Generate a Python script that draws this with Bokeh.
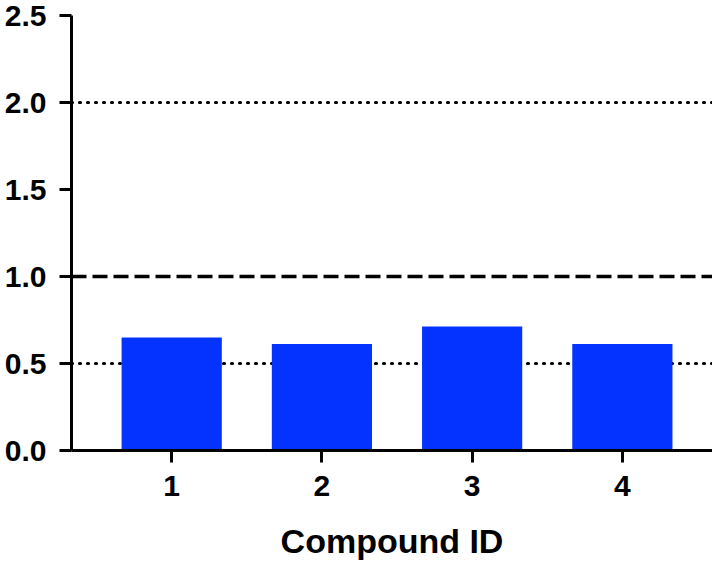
from bokeh.plotting import figure
from bokeh.models import Range1d, FixedTicker, Span
from bokeh.embed import file_html
from bokeh.resources import INLINE

compounds = [1, 2, 3, 4]
values = [0.65, 0.612, 0.712, 0.612]
y_ticks = [0.0, 0.5, 1.0, 1.5, 2.0, 2.5]
y_tick_labels = ["0.0", "0.5", "1.0", "1.5", "2.0", "2.5"]
dotted_refs = [0.5, 2.0]
dashed_ref = 1.0
x_label = "Compound ID"

FONT = "Liberation Sans"

p = figure(width=712, height=562, output_backend="svg", toolbar_location=None,
           x_range=Range1d(0.333, 4.6), y_range=Range1d(0, 2.5),
           min_border_left=71, min_border_right=0, min_border_top=15, min_border_bottom=10)
p.xgrid.visible = False
p.ygrid.visible = False
p.outline_line_color = None
p.background_fill_color = "white"
p.border_fill_color = "white"

for r in dotted_refs:
    p.add_layout(Span(location=r, dimension="width", line_color="black",
                      line_width=3.2, line_dash="1 7", line_cap="round", level="underlay"))
p.add_layout(Span(location=dashed_ref, dimension="width", line_color="black",
                  line_width=3.5, line_dash="15 6", level="underlay"))

p.vbar(x=compounds, top=values, width=0.667, bottom=0, fill_color="#0433FF",
       line_color=None)

for ax in (p.xaxis[0], p.yaxis[0]):
    ax.axis_line_width = 3
    ax.major_tick_line_width = 3
    ax.major_tick_out = 12
    ax.major_tick_in = 0
    ax.minor_tick_line_color = None
    ax.major_label_text_font = FONT
    ax.major_label_text_font_style = "bold"
    ax.major_label_text_font_size = "30px"
    ax.major_label_text_color = "black"
    ax.axis_line_color = "black"
    ax.major_tick_line_color = "black"

p.xaxis.ticker = FixedTicker(ticks=compounds)
p.xaxis.major_label_standoff = 13
p.xaxis.axis_label = x_label
p.xaxis.axis_label_text_font = FONT
p.xaxis.axis_label_text_font_style = "bold"
p.xaxis.axis_label_text_font_size = "34px"
p.xaxis.axis_label_text_color = "black"
p.xaxis.axis_label_standoff = 23

p.yaxis.ticker = FixedTicker(ticks=y_ticks)
p.yaxis.major_label_overrides = {t: l for t, l in zip(y_ticks, y_tick_labels)}
p.yaxis.major_label_standoff = 13

open("out.html", "w").write(file_html(p, INLINE))
